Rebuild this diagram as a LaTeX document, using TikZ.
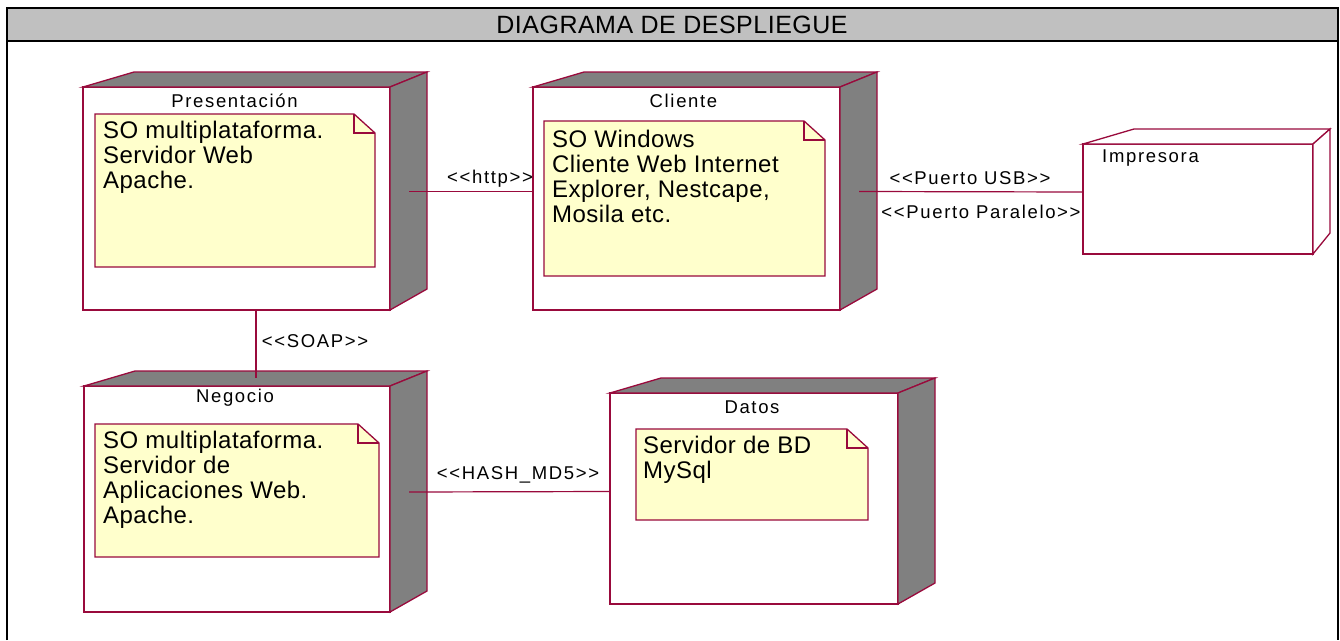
\documentclass[tikz,border=0pt]{standalone}
\usepackage{fontspec}
\setmainfont{Liberation Sans}
\newfontfamily\notefont[LetterSpace=2]{Liberation Sans}
\newfontfamily\tagfont[LetterSpace=9]{Liberation Sans}
\newfontfamily\headfont[LetterSpace=2]{Liberation Sans}
\usetikzlibrary{calc}
\definecolor{edge}{RGB}{153,10,60}
\definecolor{notefill}{RGB}{255,255,204}
\definecolor{side}{RGB}{128,128,128}
\definecolor{band}{RGB}{192,192,192}

\tikzset{
  front/.style={draw=edge, line width=1.3pt, fill=white, inner sep=0pt, outer sep=0pt, rectangle},
  notebox/.style={inner sep=0pt, outer sep=0pt, rectangle},
  noteline/.style={draw=edge, line width=1.3pt, fill=notefill},
  shade/.style={draw=edge, line width=1.3pt, fill=side},
  plainface/.style={draw=edge, line width=1.3pt, fill=white},
  conn/.style={draw=edge, line width=1.2pt},
  tag/.style={font=\tagfont\fontsize{18.5}{20}\selectfont, inner sep=0pt, text=black},
  notetext/.style={font=\notefont\fontsize{24}{25}\selectfont, align=left, inner sep=0pt, anchor=north west},
  frameline/.style={draw=black, line width=2.6pt},
}

% depth faces of a deployment node: top face and right face
% #1 node, #2 face style, #3 horizontal depth at the right edge
\newcommand\depthfaces[3]{%
  \path[#2] (#1.north west) -- ++(51,-15) -- ($(#1.north east)+(#3,-15)$) -- (#1.north east) -- cycle;
  \path[#2] (#1.north east) -- ++(#3,-15) -- ($(#1.south east)+(#3,-21)$) -- (#1.south east) -- cycle;
}
% note outline with folded corner
\newcommand\noteshape[1]{%
  \path[noteline] (#1.north west) -- ($(#1.north east)+(-21,0)$) -- ($(#1.north east)+(0,19)$) -- (#1.south east) -- (#1.south west) -- cycle;
  \draw[edge, line width=1.3pt] ($(#1.north east)+(-21,0)$) -- ++(0,19) -- ($(#1.north east)+(0,19)$);
}

\begin{document}
\begin{tikzpicture}[x=1pt, y=-1pt]
\useasboundingbox (0,0) rectangle (1340,640);
\fill[white] (0,0) rectangle (1340,640);

% frame and title band
\fill[band] (7,8) rectangle (1338,41);
\draw[frameline] (7,640) -- (7,8) -- (1338,8) -- (1338,640);
\draw[frameline] (7,41) -- (1338,41);
\node[font=\headfont\fontsize{25}{27}\selectfont, inner sep=0pt] (head) at (672,25) {DIAGRAMA DE DESPLIEGUE};

% node front faces
\node[front, minimum width=307pt, minimum height=223pt] (pres) at (236.5,198.5) {};
\node[front, minimum width=307pt, minimum height=223pt] (cli) at (686.5,198.5) {};
\node[front, minimum width=230pt, minimum height=110pt] (imp) at (1198,199) {};
\node[front, minimum width=306pt, minimum height=226pt] (neg) at (237,499) {};
\node[front, minimum width=288pt, minimum height=211pt] (dat) at (754,498.5) {};

\depthfaces{pres}{shade}{37}
\depthfaces{cli}{shade}{37}
\depthfaces{neg}{shade}{37}
\depthfaces{dat}{shade}{37}
\depthfaces{imp}{plainface}{17}

% node titles
\node[tag] (presT) at ($(pres.north)+(-2,14)$) {Presentación};
\node[tag] (cliT) at ($(cli.north)+(-3,14)$) {Cliente};
\node[tag] (negT) at ($(neg.north)+(-2,12)$) {Negocio};
\node[tag] (datT) at ($(dat.north)+(-2,14)$) {Datos};
\node[tag, anchor=west] (impT) at ($(imp.north west)+(19,14)$) {Impresora};

% notes
\node[notebox, minimum width=280pt, minimum height=153pt] (presN) at (235,190.5) {};
\node[notebox, minimum width=281pt, minimum height=155pt] (cliN) at (684.5,198.5) {};
\node[notebox, minimum width=284pt, minimum height=133pt] (negN) at (237,490.5) {};
\node[notebox, minimum width=232pt, minimum height=91pt] (datN) at (752,474.5) {};
\noteshape{presN}
\noteshape{cliN}
\noteshape{negN}
\noteshape{datN}

\node[notetext] (presX) at ($(presN.north west)+(8,7)$) {SO multiplataforma.\\Servidor Web\\Apache.};
\node[notetext] (cliX) at ($(cliN.north west)+(8,9)$) {SO Windows\\Cliente Web Internet\\Explorer, Nestcape,\\Mosila etc.};
\node[notetext] (negX) at ($(negN.north west)+(8,7)$) {SO multiplataforma.\\Servidor de\\Aplicaciones Web.\\Apache.};
\node[notetext] (datX) at ($(datN.north west)+(7,7)$) {Servidor de BD\\MySql};

% connections
\draw[conn] ($(pres.east)+(19,-7)$) -- ($(cli.west)+(0,-7)$);
\draw[conn] ($(cli.east)+(19,-7)$) -- ($(imp.west)+(0,-7)$);
\draw[conn] ($(pres.south)+(19.5,0)$) -- ($(neg.north)+(19,-8)$);
\draw[conn] ($(neg.east)+(19,-7)$) -- ($(dat.west)+(0,-7)$);

% connection labels
\node[tag] (lhttp) at (490,179) {<<http>>};
\node[tag] (lusb) at (970,178) {<<Puerto USB>>};
\node[tag] (lpar) at (981,212) {<<Puerto Paralelo>>};
\node[tag] (lsoap) at (315,341) {<<SOAP>>};
\node[tag] (lhash) at (518,475) {<<HASH\_MD5>>};
\end{tikzpicture}
\end{document}
